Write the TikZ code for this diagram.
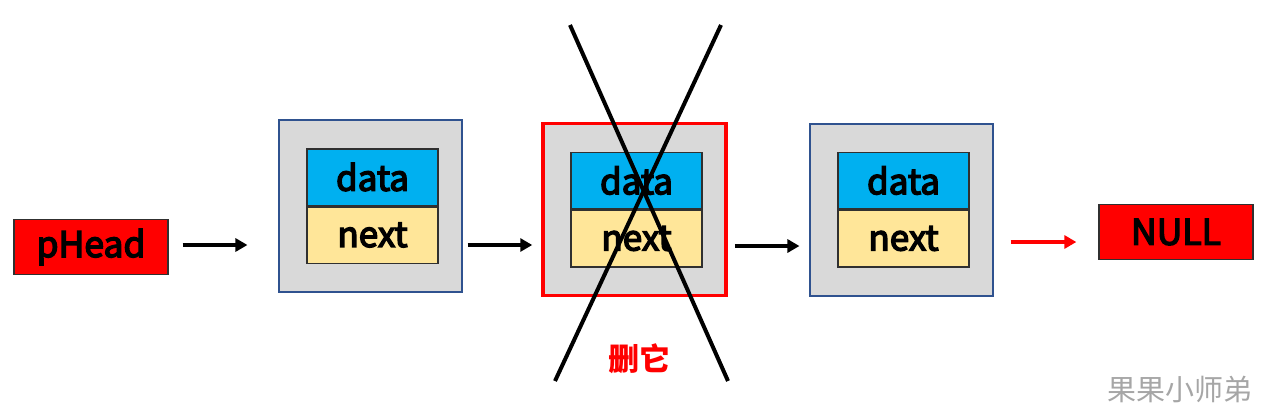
\documentclass[tikz,border=0pt]{standalone}
\usepackage{fontspec}
\setmainfont{Noto Sans CJK SC}
\newfontfamily\cjk{Noto Sans CJK SC}
\newfontfamily\medfont[FakeBold=4]{Noto Sans CJK SC}
\definecolor{NodeGray}{HTML}{D9D9D9}
\definecolor{NodeEdge}{HTML}{2F528F}
\definecolor{DataBlue}{HTML}{00B0F0}
\definecolor{NextYellow}{HTML}{FFE699}
\definecolor{CellEdge}{HTML}{303030}
\usetikzlibrary{arrows.meta, positioning, calc}

\begin{document}
\begin{tikzpicture}[x=1pt, y=-1pt,
    outerbox/.style={draw=NodeEdge, line width=1.1pt, fill=NodeGray,
      minimum width=183pt, minimum height=172pt, inner sep=0pt},
    cell/.style={draw=CellEdge, line width=1.5pt, minimum width=131pt,
      minimum height=56.5pt, inner sep=0pt, font=\medfont\fontsize{35}{38}\selectfont},
    endbox/.style={draw=CellEdge, line width=1.3pt, fill=red,
      minimum width=154pt, minimum height=55pt, inner sep=0pt,
      font=\medfont\fontsize{35.5}{38}\selectfont},
    link/.style={line width=4pt, -{Triangle[length=12pt, width=13pt]}}]
  \useasboundingbox (0,0) rectangle (1264,413);
  % head and tail
  \node[endbox] (phead) at (91,247) {pHead};
  \node[endbox] (null) at (1176,232) {NULL};
  % list nodes
  \node[outerbox] (n1) at (370.5,206) {};
  \node[outerbox, draw=red, line width=3.5pt] (n2) at (634.5,209.5) {};
  \node[outerbox] (n3) at (901.5,210) {};
  \foreach \n/\x/\y in {1/372.5/177, 2/636.5/180.5, 3/903.5/180.5} {
    \node[cell, fill=DataBlue] (d\n) at (\x,\y) {data};
    \node[cell, fill=NextYellow, below=0pt of d\n] (x\n) {next};
  }
  % pointers
  \draw[link, shorten <=14pt, shorten >=31pt] (phead.east |- 0,245) -- (n1.west |- 0,245);
  \draw[link, shorten <=5pt, shorten >=9pt] (n1.east |- 0,245) -- (n2.west |- 0,245);
  \draw[link, shorten <=7pt, shorten >=10pt] (n2.east |- 0,246) -- (n3.west |- 0,246);
  \draw[link, red, line width=3.2pt, shorten <=17pt, shorten >=22pt]
    (n3.east |- 0,242) -- (null.west |- 0,242);
  % cross over the deleted node
  \coordinate (c1) at (570,25);
  \coordinate (c2) at (728,381);
  \coordinate (c3) at (721,25);
  \coordinate (c4) at (555,381);
  \draw[line width=4pt] (c1) -- (c2);
  \draw[line width=4pt] (c3) -- (c4);
  \node[red, font=\cjk\bfseries\fontsize{31}{34}\selectfont] (del) at (639,359) {删它};
  \node[gray!70, font=\cjk\fontsize{29}{32}\selectfont] (mark) at (1180,389) {果果小师弟};
\end{tikzpicture}
\end{document}
